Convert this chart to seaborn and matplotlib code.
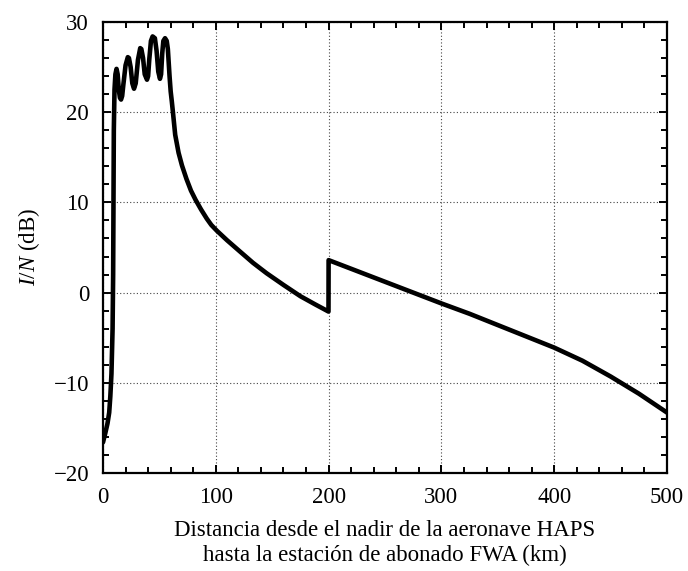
import matplotlib
matplotlib.use("Agg")
import matplotlib.pyplot as plt
import seaborn as sns
import pandas as pd
from matplotlib.ticker import MultipleLocator

# Data
distance_km = [0, 2, 4, 5.5, 6.5, 7.5, 8.5, 9, 9.3, 9.6, 10.2, 11, 12, 13, 14, 15, 16, 17, 18,
               20, 22, 23, 24.5, 26, 27.5, 29, 31, 33, 34, 35.5, 37, 39, 40, 41, 42.5, 44,
               46, 47.5, 49, 50.5, 51.5, 52.5, 53.5, 55, 56.5, 57.5, 58, 59, 60, 61, 62, 64,
               67, 70, 74, 78, 82, 87, 92, 96, 101, 110, 121, 133, 145, 160, 175, 188, 199.9,
               200, 225, 250, 275, 300, 325, 350, 375, 400, 425, 450, 475, 500]
i_over_n_db = [-16.6, -15.6, -14.5, -13.3, -11.5, -9.0, -4.0, 2.0, 10.0, 18.0, 22.5, 24.2, 24.8,
               24.2, 22.5, 21.6, 21.4, 21.8, 23.0,
               25.2, 26.1, 26.0, 25.0, 23.2, 22.6, 23.2, 25.8, 27.1, 27.0, 26.0, 24.2, 23.6,
               24.0, 25.8, 27.9, 28.4,
               28.2, 26.8, 24.5, 23.7, 24.2, 26.5, 27.9, 28.2, 27.9, 27.0, 26.0, 24.0, 22.3,
               21.2, 20.0, 17.5,
               15.5, 14.1, 12.6, 11.3, 10.3, 9.2, 8.2, 7.5, 6.85, 5.8, 4.6, 3.3, 2.15, 0.85,
               -0.4, -1.3, -2.1,
               3.6, 2.4, 1.2, 0.0, -1.2, -2.35, -3.6, -4.85, -6.1, -7.55, -9.3, -11.2, -13.3]

x_ticks = [0, 100, 200, 300, 400, 500]
y_ticks = [-20, -10, 0, 10, 20, 30]
x_label = "Distancia desde el nadir de la aeronave HAPS\nhasta la estación de abonado FWA (km)"
y_label = r"$\mathit{I/N}$ (dB)"

sns.set_theme(style="ticks")
plt.rcParams["font.family"] = ["Liberation Serif", "DejaVu Serif"]
plt.rcParams["mathtext.fontset"] = "custom"
plt.rcParams["mathtext.it"] = "Liberation Serif:italic"
plt.rcParams["mathtext.rm"] = "Liberation Serif"
for key in ["text.color", "axes.labelcolor", "xtick.color", "ytick.color", "axes.edgecolor"]:
    plt.rcParams[key] = "black"

df = pd.DataFrame({"x": distance_km, "y": i_over_n_db})

fig = plt.figure(figsize=(6.88, 5.71), dpi=100)
ax = fig.add_axes([0.1497, 0.1716, 0.8198, 0.7899])

sns.lineplot(data=df, x="x", y="y", sort=False, estimator=None, color="black",
             linewidth=3.3, ax=ax)

ax.set_xlim(0, 500)
ax.set_ylim(-20, 30)
ax.set_xticks(x_ticks)
ax.set_yticks(y_ticks)
ax.xaxis.set_minor_locator(MultipleLocator(20))
ax.yaxis.set_minor_locator(MultipleLocator(2))
ax.tick_params(which="both", direction="in", top=True, right=True, colors="black",
               labelsize=16.5, width=1.4)
ax.tick_params(which="major", length=6)
ax.tick_params(which="minor", length=4)
ax.tick_params(axis="x", which="major", pad=10)
ax.tick_params(axis="y", which="major", pad=10)
for s in ax.spines.values():
    s.set_visible(True)
    s.set_linewidth(1.6)
    s.set_color("black")

ax.grid(True, which="major", linestyle=(0, (1, 2)), color="#444444", linewidth=0.8)
ax.set_axisbelow(True)

ax.set_xlabel(x_label, fontsize=16.5, labelpad=9, linespacing=1.2)
ax.set_ylabel(y_label, fontsize=16.5, labelpad=8)

fig.savefig("out.png", dpi=100)
